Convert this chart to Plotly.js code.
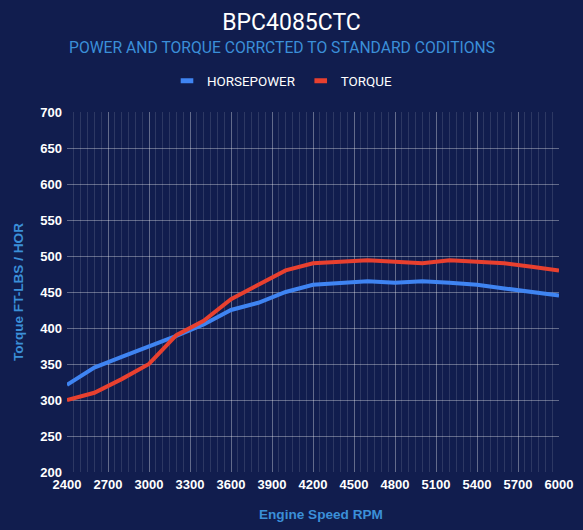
<!DOCTYPE html>
<html>
<head>
<meta charset="utf-8">
<script src="https://cdn.plot.ly/plotly-3.0.1.min.js"></script>
<style>
  html, body { margin: 0; padding: 0; background: #111d4e; }
  #chart { width: 583px; height: 530px; }
</style>
</head>
<body>
<div id="chart"></div>
<script>
// engine speed, rpm
var rpm = [2400, 2600, 2800, 3000, 3200, 3400, 3600, 3800, 4000, 4200,
           4400, 4600, 4800, 5000, 5200, 5400, 5600, 5800, 6000];
var horsepower = [321, 345, 360, 374, 389, 405, 425, 435, 450, 460,
                  463, 465, 463, 465, 463, 460, 455, 450, 445];
var torque = [300, 310, 329, 350, 390, 410, 440, 460, 480, 490,
              492, 494, 492, 490, 494, 492, 490, 485, 480];
var xTicks = [2400, 2700, 3000, 3300, 3600, 3900, 4200, 4500, 4800, 5100, 5400, 5700, 6000];
var seriesNames = ['HORSEPOWER', 'TORQUE'];
var seriesColors = ['#3f84f2', '#e8402f'];

var bg = '#111d4e';
var labelBlue = '#3b8fd8';
var tickFont = {family: 'Liberation Sans, Arial, sans-serif', size: 13, color: '#ffffff', weight: 'bold'};
var axisTitleFont = {family: 'Liberation Sans, Arial, sans-serif', size: 13.6, color: labelBlue, weight: 'bold'};

var traces = [
    {x: rpm, y: horsepower, name: seriesNames[0], mode: 'lines',
     line: {color: seriesColors[0], width: 4}, showlegend: false},
    {x: rpm, y: torque, name: seriesNames[1], mode: 'lines',
     line: {color: seriesColors[1], width: 4}, showlegend: false}
];
// legend entries: short thick bars like the original
seriesNames.forEach(function(n, i){
    traces.push({
        x: [null], y: [null], name: n, mode: 'markers',
        marker: {symbol: 'line-ew', size: 9, color: seriesColors[i],
                 line: {color: seriesColors[i], width: 5}}
    });
});

var layout = {
    width: 583,
    height: 530,
    paper_bgcolor: bg,
    plot_bgcolor: bg,
    margin: {l: 67, r: 24, t: 112, b: 58},
    showlegend: true,
    title: {
        text: 'BPC4085CTC',
        font: {family: 'Roboto, Arial, sans-serif', size: 23, color: '#ffffff'},
        x: 0.5,
        xanchor: 'center',
        yref: 'container',
        y: 1 - 22 / 530,
        yanchor: 'middle'
    },
    annotations: [
        {
            text: 'POWER AND TORQUE CORRCTED TO STANDARD CODITIONS',
            xref: 'paper', yref: 'paper',
            x: (282 - 67) / 492, y: (472 - 48) / 360,
            xanchor: 'center', yanchor: 'middle',
            showarrow: false,
            font: {family: 'Roboto, Arial, sans-serif', size: 15.7, color: labelBlue}
        },
        {
            text: 'Engine Speed RPM',
            xref: 'paper', yref: 'paper',
            x: (321 - 67) / 492, y: (472 - 514) / 360,
            xanchor: 'center', yanchor: 'middle',
            showarrow: false,
            font: axisTitleFont
        }
    ],
    legend: {
        orientation: 'h',
        x: (282 - 67) / 492,
        xanchor: 'center',
        y: (472 - 81) / 360,
        yanchor: 'middle',
        font: {family: 'Roboto, Arial, sans-serif', size: 13.4, color: '#ffffff'},
        itemwidth: 30,
        bgcolor: 'rgba(0,0,0,0)'
    },
    xaxis: {
        range: [2400, 6000],
        tickvals: xTicks,
        ticktext: xTicks.map(String),
        tickfont: tickFont,
        showgrid: true,
        gridcolor: 'rgba(255,255,255,0.26)',
        gridwidth: 1,
        zeroline: false,
        showline: false,
        ticks: '',
        ticklabelstandoff: 3,
        minor: {dtick: 50, tick0: 2400, showgrid: true, gridcolor: 'rgba(255,255,255,0.12)', gridwidth: 1},
        fixedrange: true
    },
    yaxis: {
        range: [200, 700],
        dtick: 50,
        tickfont: tickFont,
        showgrid: true,
        gridcolor: 'rgba(255,255,255,0.34)',
        gridwidth: 1,
        zeroline: false,
        showline: false,
        ticks: '',
        ticklabelstandoff: 4,
        title: {text: 'Torque FT-LBS / HOR', font: axisTitleFont, standoff: 13},
        fixedrange: true
    }
};

Plotly.newPlot('chart', traces, layout, {displayModeBar: false, staticPlot: true});
</script>
</body>
</html>
